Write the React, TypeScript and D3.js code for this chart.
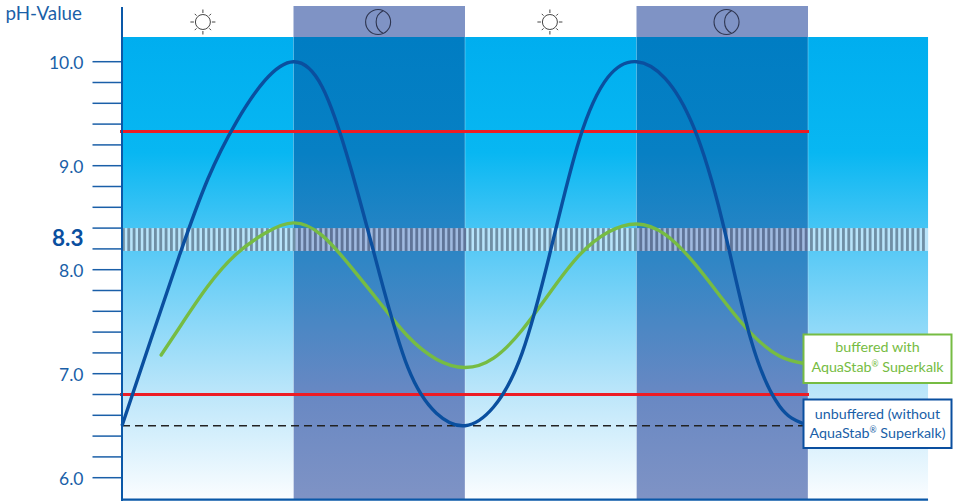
import React from "react";
import * as d3 from "d3";

const unbufferedHours = [0, 1, 2, 3, 4, 5, 6, 7, 8, 9, 10, 11, 12, 13, 14, 15, 16, 17, 18, 19, 20, 21, 22, 23, 23.83];
const unbufferedPH = [6.5, 7.32, 8.13, 8.87, 9.42, 9.82, 10, 9.76, 8.98, 7.97, 7.06, 6.62, 6.5, 6.68, 7.2, 8.19, 9.25, 9.85, 10, 9.84, 9.37, 8.47, 7.33, 6.69, 6.52];
const bufferedHours = [1.37, 2, 3, 4, 5, 6, 7, 8, 9, 10, 11, 12, 13, 14, 15, 16, 17, 18, 19, 20, 21, 22, 23, 23.83];
const bufferedPH = [7.18, 7.44, 7.84, 8.15, 8.35, 8.45, 8.33, 8.03, 7.69, 7.36, 7.14, 7.06, 7.15, 7.42, 7.79, 8.14, 8.36, 8.44, 8.34, 8.07, 7.72, 7.39, 7.17, 7.1];

const nightSpans = [[6, 12], [18, 24]];
const daySpans = [[0, 6], [12, 18], [24, 28.2]];
const sunHours = [2.83, 14.97];
const moonHours = [8.96, 21.15];
const majorTicks = [10, 9, 8, 7, 6];
const limitPH = [9.33, 6.8];
const neutralPH = 6.5;
const bandPH = [8.18, 8.4];
const highlightPH = 8.3;
const chartEndHour = 28.2;

const BLUE = "#0A4F9F";
const TEXT = "#1A5FA8";
const GREEN = "#76BC43";
const RED = "#ED1C24";
const FONT = "Lato, 'Noto Sans', sans-serif";

const x = d3.scaleLinear().domain([0, 24]).range([122, 808]);
const y = d3.scaleLinear().domain([6, 10]).range([477.7, 61.7]);
const line = d3
  .line<[number, number]>()
  .x((d) => x(d[0]))
  .y((d) => y(d[1]))
  .curve(d3.curveNatural);

const zip = (a: number[], b: number[]) => a.map((v, i) => [v, b[i]] as [number, number]);
const minorTicks = d3.range(0, 21).map((i) => 6 + i * 0.2);
const isNight = (h: number) => nightSpans.some(([a, b]) => h >= a && h < b);
const stripes = d3.range(0, chartEndHour - 0.1, 0.1866);

function Sun({ cx }: { cx: number }) {
  return (
    <g transform={`translate(${cx},22)`} stroke="#444" fill="none">
      <circle r={7.5} strokeWidth={1} />
      {d3.range(8).map((i) => {
        const a = (i * Math.PI) / 4;
        const r2 = i % 2 === 0 ? 12.5 : 11.5;
        return (
          <line
            key={i}
            x1={9 * Math.cos(a)}
            y1={9 * Math.sin(a)}
            x2={r2 * Math.cos(a)}
            y2={r2 * Math.sin(a)}
            strokeWidth={1}
          />
        );
      })}
    </g>
  );
}

function Moon({ cx }: { cx: number }) {
  return (
    <g transform={`translate(${cx},22)`} stroke="#2E3550" fill="none" strokeWidth={1.1}>
      <circle r={12.5} />
      <path d="M5,-11.2 A12.5,12.5 0 0 0 5,11.2" />
    </g>
  );
}

export default function App() {
  const top = 37;
  const bottom = 499.5;
  const right = x(chartEndHour);
  return (
    <svg
      width={954}
      height={501}
      style={{ position: "absolute", left: 0, top: 0, display: "block" }}
      fontFamily={FONT}
    >
      <defs>
        <linearGradient id="day" gradientUnits="userSpaceOnUse" x1={0} x2={0} y1={top} y2={bottom}>
          <stop offset="0" stopColor="#00AEEF" />
          <stop offset="0.25" stopColor="#08B7F2" />
          <stop offset="0.48" stopColor="#5ECBF6" />
          <stop offset="0.77" stopColor="#BCE6FA" />
          <stop offset="1" stopColor="#FBFDFF" />
        </linearGradient>
        <linearGradient id="night" gradientUnits="userSpaceOnUse" x1={0} x2={0} y1={top} y2={bottom}>
          <stop offset="0" stopColor="#007DC3" />
          <stop offset="0.25" stopColor="#0780C4" />
          <stop offset="0.48" stopColor="#2F86C5" />
          <stop offset="0.77" stopColor="#6888C3" />
          <stop offset="1" stopColor="#7F93C5" />
        </linearGradient>
      </defs>

      <rect x={x(0)} y={top} width={right - x(0)} height={bottom - top} fill="url(#day)" />
      {nightSpans.map(([a, b]) => (
        <g key={a}>
          <rect x={x(a)} y={6} width={x(b) - x(a)} height={top - 6} fill="#7F93C5" />
          <rect x={x(a)} y={top} width={x(b) - x(a)} height={bottom - top} fill="url(#night)" />
          <line x1={x(a)} x2={x(a)} y1={top} y2={bottom} stroke="#fff" strokeOpacity={0.3} />
          <line x1={x(b)} x2={x(b)} y1={top} y2={bottom} stroke="#fff" strokeOpacity={0.3} />
        </g>
      ))}

      {/* pH 8.3 hatched band */}
      {nightSpans.map(([a, b]) => (
        <rect key={a} x={x(a)} y={y(bandPH[1])} width={x(b) - x(a)} height={y(bandPH[0]) - y(bandPH[1])} fill="#A0BAE0" />
      ))}
      {daySpans.map(([a, b]) => (
        <rect key={a} x={x(a)} y={y(bandPH[1])} width={x(b) - x(a)} height={y(bandPH[0]) - y(bandPH[1])} fill="#B8E4FA" />
      ))}
      {stripes.map((h) => (
        <rect
          key={h}
          x={x(h)}
          y={y(bandPH[1])}
          width={2.8}
          height={y(bandPH[0]) - y(bandPH[1])}
          fill={isNight(h) ? "#5F7498" : "#6F8FA5"}
        />
      ))}

      {sunHours.map((h) => (
        <Sun key={h} cx={x(h)} />
      ))}
      {moonHours.map((h) => (
        <Moon key={h} cx={x(h)} />
      ))}

      {/* neutral dashed line */}
      <line
        x1={x(0)}
        x2={803}
        y1={y(neutralPH)}
        y2={y(neutralPH)}
        stroke="#222"
        strokeWidth={1.5}
        strokeDasharray="8 5"
      />

      {/* limits */}
      {limitPH.map((v) => (
        <line key={v} x1={120} x2={809} y1={y(v)} y2={y(v)} stroke={RED} strokeWidth={3} />
      ))}

      <path d={line(zip(bufferedHours, bufferedPH)) ?? ""} fill="none" stroke={GREEN} strokeWidth={3.4} strokeLinecap="round" />
      <path d={line(zip(unbufferedHours, unbufferedPH)) ?? ""} fill="none" stroke={BLUE} strokeWidth={3.4} />

      {/* axes */}
      <line x1={122} x2={122} y1={7} y2={501} stroke="#0A58A8" strokeWidth={2} />
      <line x1={121} x2={right} y1={499.7} y2={499.7} stroke="#0A58A8" strokeWidth={2.2} />
      {minorTicks.map((v) => (
        <line key={v} x1={92.5} x2={121} y1={y(v)} y2={y(v)} stroke={TEXT} strokeWidth={1.5} />
      ))}
      {majorTicks.map((v) => (
        <text key={v} x={83.5} y={y(v) + 7} textAnchor="end" fontSize={17.5} fill={TEXT}>
          {d3.format(".1f")(v)}
        </text>
      ))}
      <text x={83.5} y={y(highlightPH) + 7.5} textAnchor="end" fontSize={22.5} fontWeight={700} fill={BLUE}>
        {highlightPH}
      </text>
      <text x={82} y={20} textAnchor="end" fontSize={18.8} fill={TEXT}>
        pH-Value
      </text>

      {/* legend */}
      <rect x={803.5} y={334.5} width={148} height={48.5} fill="#fff" stroke={GREEN} strokeWidth={2} />
      <text x={877.5} y={352} textAnchor="middle" fontSize={14.3} fill={GREEN}>
        buffered with
      </text>
      <text x={877.5} y={372} textAnchor="middle" fontSize={14.3} fill={GREEN}>
        AquaStab<tspan fontSize={8.5} dy={-5}>®</tspan>
        <tspan dy={5}> Superkalk</tspan>
      </text>
      <rect x={803.5} y={399.5} width={148} height={48.5} fill="#fff" stroke={BLUE} strokeWidth={2} />
      <text x={877.5} y={419} textAnchor="middle" fontSize={14.3} fill={TEXT}>
        unbuffered (without
      </text>
      <text x={877.5} y={438} textAnchor="middle" fontSize={14.3} fill={TEXT}>
        AquaStab<tspan fontSize={8.5} dy={-5}>®</tspan>
        <tspan dy={5}> Superkalk)</tspan>
      </text>
    </svg>
  );
}
